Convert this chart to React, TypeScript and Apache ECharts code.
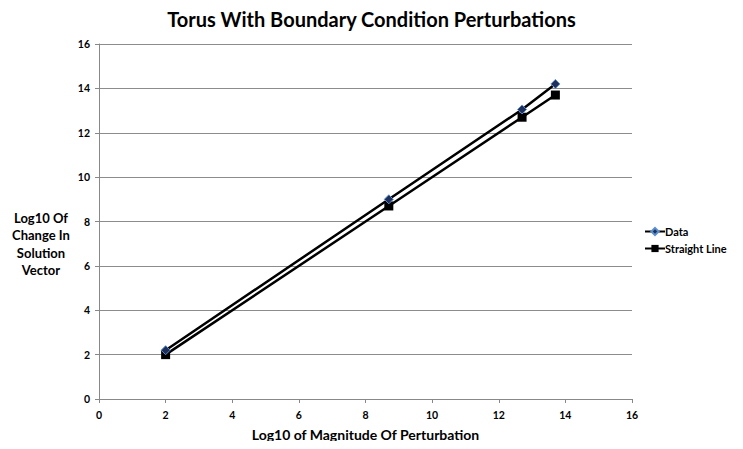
import React, { useEffect, useRef } from "react";
import * as echarts from "echarts";

const xValues = [2, 8.7, 12.7, 13.7];
const dataValues = [2.2, 9.0, 13.05, 14.2];
const straightValues = [2.0, 8.7, 12.7, 13.7];
const seriesNames = ["Data", "Straight Line"];
const titleText = "Torus With Boundary Condition Perturbations";
const xAxisTitle = "Log10 of Magnitude Of Perturbation";
const yAxisTitle = "Log10 Of\nChange In\nSolution\nVector";

const FONT = "Lato, 'Open Sans', sans-serif";

export default function App() {
  const ref = useRef<HTMLDivElement>(null);
  useEffect(() => {
    if (!ref.current) return;
    const chart = echarts.init(ref.current, null, { renderer: "svg" });
    chart.setOption({
      animation: false,
      backgroundColor: "#ffffff",
      title: {
        text: titleText,
        left: "center",
        top: 4,
        textStyle: { fontFamily: FONT, fontWeight: "bold", fontSize: 20, color: "#000" },
      },
      grid: { left: 99, right: 111, top: 44, bottom: 50 },
      legend: {
        orient: "vertical",
        left: 639,
        top: 221,
        itemGap: 6,
        itemWidth: 20,
        itemHeight: 9,
        textStyle: { fontFamily: FONT, fontWeight: "bold", fontSize: 11, color: "#000", padding: [0, 0, 0, -5] },
        data: seriesNames,
      },
      graphic: [
        {
          type: "text",
          x: 41,
          y: 209,
          style: {
            text: yAxisTitle,
            font: `bold 13px ${FONT}`,
            fill: "#000",
            textAlign: "center",
            lineHeight: 17.5,
          },
        },
      ],
      xAxis: {
        type: "value",
        min: 0,
        max: 16,
        interval: 2,
        name: xAxisTitle,
        nameLocation: "middle",
        nameGap: 28,
        nameTextStyle: { fontFamily: FONT, fontWeight: "bold", fontSize: 14, color: "#000" },
        axisLine: { show: true, lineStyle: { color: "#888", width: 1 } },
        axisTick: { show: true, length: 4, lineStyle: { color: "#888" } },
        splitLine: { show: false },
        axisLabel: { fontFamily: FONT, fontWeight: "bold", fontSize: 10.5, color: "#000", margin: 10 },
      },
      yAxis: {
        type: "value",
        min: 0,
        max: 16,
        interval: 2,
        axisLine: { show: true, lineStyle: { color: "#888", width: 1 } },
        axisTick: { show: true, length: 4, lineStyle: { color: "#888" } },
        splitLine: { show: true, lineStyle: { color: "#8c8c8c", width: 1 } },
        axisLabel: { fontFamily: FONT, fontWeight: "bold", fontSize: 10.5, color: "#000", margin: 9 },
      },
      series: [
        {
          name: seriesNames[0],
          type: "line",
          data: xValues.map((x, i) => [x, dataValues[i]]),
          symbol: "diamond",
          symbolSize: 9,
          lineStyle: { color: "#000", width: 2.5 },
          itemStyle: { color: "#1f2f5a", borderColor: "#5b8fd0", borderWidth: 1 },
          z: 3,
        },
        {
          name: seriesNames[1],
          type: "line",
          data: xValues.map((x, i) => [x, straightValues[i]]),
          symbol: "rect",
          symbolSize: 9,
          lineStyle: { color: "#000", width: 2.5 },
          itemStyle: { color: "#000" },
          z: 2,
        },
      ],
    });
    return () => chart.dispose();
  }, []);
  return <div ref={ref} style={{ width: 743, height: 449, margin: -8 }} />;
}
